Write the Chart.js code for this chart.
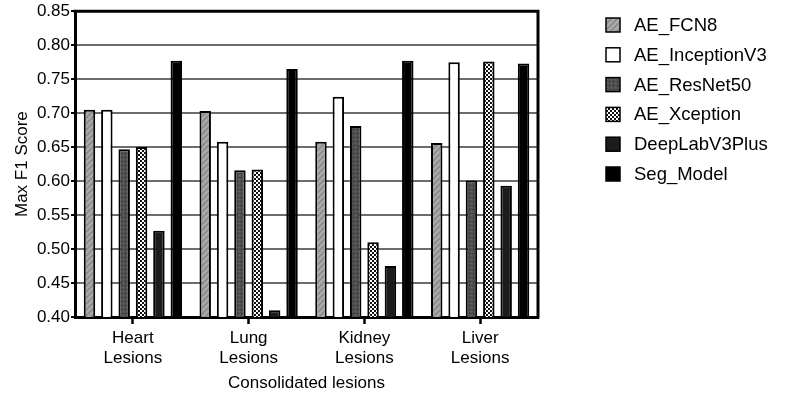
<!DOCTYPE html>
<html>
<head>
<meta charset="utf-8">
<script src="https://cdn.jsdelivr.net/npm/chart.js@4.4.1/dist/chart.umd.min.js"></script>
<style>
  html, body { margin: 0; padding: 0; background: #fff; }
  #wrap { width: 788px; height: 406px; position: relative; }
</style>
</head>
<body>
<div id="wrap"><canvas id="chart"></canvas></div>
<script>
// ===== datos =====
const categories = [['Heart', 'Lesions'], ['Lung', 'Lesions'], ['Kidney', 'Lesions'], ['Liver', 'Lesions']];
const seriesNames = ['AE_FCN8', 'AE_InceptionV3', 'AE_ResNet50', 'AE_Xception', 'DeepLabV3Plus', 'Seg_Model'];
const fcn8 = [0.705, 0.703, 0.658, 0.656];
const inceptionV3 = [0.705, 0.658, 0.724, 0.775];
const resNet50 = [0.647, 0.616, 0.681, 0.601];
const xception = [0.650, 0.617, 0.510, 0.776];
const deepLabV3Plus = [0.527, 0.410, 0.475, 0.593];
const segModel = [0.777, 0.765, 0.777, 0.773];
const yTicks = [0.40, 0.45, 0.50, 0.55, 0.60, 0.65, 0.70, 0.75, 0.80, 0.85];

const FONT = '"Liberation Sans", Arial, Helvetica, sans-serif';

// ===== tramas de relleno =====
function makePattern(size, draw) {
    const c = document.createElement('canvas');
    c.width = size; c.height = size;
    const g = c.getContext('2d');
    draw(g, size);
    return g.createPattern(c, 'repeat');
}

const hatchGray = makePattern(6, (g, s) => {
    g.fillStyle = '#a9a9a9'; g.fillRect(0, 0, s, s);
    g.strokeStyle = '#878787'; g.lineWidth = 1.5;
    g.beginPath();
    g.moveTo(0, s); g.lineTo(s, 0);
    g.moveTo(-1, 1); g.lineTo(1, -1);
    g.moveTo(s - 1, s + 1); g.lineTo(s + 1, s - 1);
    g.stroke();
});
const dotsDark = makePattern(4, (g, s) => {
    g.fillStyle = '#505050'; g.fillRect(0, 0, s, s);
    g.fillStyle = '#2a2a2a'; g.fillRect(1, 1, 1, 1);
    g.fillStyle = '#6a6a6a'; g.fillRect(3, 3, 1, 1);
});
const checker = makePattern(4, (g, s) => {
    g.fillStyle = '#ffffff'; g.fillRect(0, 0, s, s);
    g.fillStyle = '#111111'; g.fillRect(0, 0, 2, 2); g.fillRect(2, 2, 2, 2);
});

const fills = [hatchGray, '#ffffff', dotsDark, checker, '#1c1c1c', '#000000'];
const values = [fcn8, inceptionV3, resNet50, xception, deepLabV3Plus, segModel];

// ===== plugins =====
const framePlugin = {
    id: 'frame',
    afterDraw(chart) {
        const { ctx, chartArea: a } = chart;
        ctx.save();
        ctx.strokeStyle = '#000';
        ctx.lineWidth = 3;
        ctx.beginPath();
        ctx.moveTo(a.left - 1.5, a.top);
        ctx.lineTo(a.right, a.top);
        ctx.lineTo(a.right, a.bottom + 1.5);
        ctx.stroke();
        ctx.restore();
    }
};

const sideLegend = {
    id: 'sideLegend',
    afterDraw(chart) {
        const { ctx } = chart;
        ctx.save();
        ctx.font = '18.5px ' + FONT;
        ctx.textBaseline = 'middle';
        chart.data.datasets.forEach((ds, i) => {
            const y = 25 + i * 29.8;
            ctx.fillStyle = ds.backgroundColor;
            ctx.fillRect(606, y - 7, 14, 14);
            ctx.strokeStyle = '#000';
            ctx.lineWidth = 1.5;
            ctx.strokeRect(606, y - 7, 14, 14);
            ctx.fillStyle = '#000';
            ctx.fillText(ds.label, 634, y + 1);
        });
        ctx.restore();
    }
};

// ===== gráfico =====
new Chart(document.getElementById('chart'), {
    type: 'bar',
    data: {
        labels: categories,
        datasets: seriesNames.map((name, i) => ({
            label: name,
            data: values[i],
            backgroundColor: fills[i],
            borderColor: '#000',
            borderWidth: 2,
            categoryPercentage: 0.9,
            barPercentage: 0.66
        }))
    },
    options: {
        responsive: true,
        maintainAspectRatio: false,
        animation: false,
        layout: { padding: { top: 9, right: 250, left: 0, bottom: 0 } },
        plugins: { legend: { display: false }, tooltip: { enabled: false } },
        scales: {
            x: {
                grid: { display: true, drawOnChartArea: false, drawTicks: true, tickLength: 7, tickWidth: 2.5, tickColor: '#000', offset: false },
                border: { display: true, color: '#000', width: 3 },
                ticks: { color: '#000', font: { family: FONT, size: 17, lineHeight: 1.15 }, padding: 5, maxRotation: 0 },
                title: { display: true, text: 'Consolidated lesions', color: '#000', font: { family: FONT, size: 17 }, padding: { top: 0, bottom: 12 } },
                afterFit(scale) { scale.height = 89; }
            },
            y: {
                min: 0.40,
                max: 0.85,
                afterBuildTicks(scale) { scale.ticks = yTicks.map(v => ({ value: v })); },
                grid: { color: '#6c6c6c', lineWidth: 2, drawTicks: true, tickLength: 4, tickColor: '#000', tickWidth: 2 },
                border: { display: true, color: '#000', width: 3 },
                ticks: { color: '#000', font: { family: FONT, size: 17 }, padding: 1, callback: v => Number(v).toFixed(2) },
                title: { display: true, text: 'Max F1 Score', color: '#000', font: { family: FONT, size: 17 }, padding: { top: 12, bottom: 0 } },
                afterFit(scale) { scale.width = 75; }
            }
        }
    },
    plugins: [framePlugin, sideLegend]
});
</script>
</body>
</html>
